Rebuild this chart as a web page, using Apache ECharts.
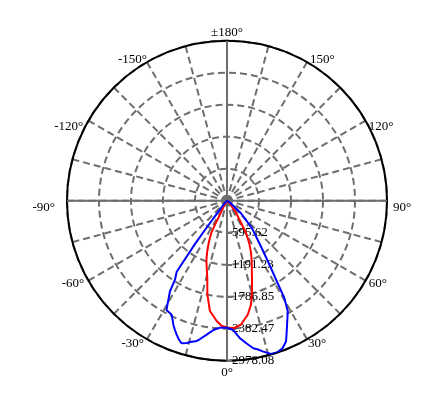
<!DOCTYPE html>
<html><head><meta charset="utf-8">
<script src="https://cdn.jsdelivr.net/npm/echarts@6/dist/echarts.min.js"></script>
<style>html,body{margin:0;padding:0;background:#fff}#c{width:446px;height:397px}</style>
</head><body><div id="c"></div>
<script>
// angle (deg, 0 = down, + = right) and intensity (cd)
var redAngles = [-90, -35, -27, -26.6, -26, -23.5, -21, -19, -14.3, -11.8, -8.8, -4.9, -2.4, 0, 3.3, 6.4, 10.3, 13, 15.4, 17.5, 22.5, 24.8, 27.5, 30.7, 32.5, 36.9, 42, 50, 90];
var redValues = [0, 60, 250, 458, 666, 853, 1037, 1180, 1485, 1787, 2077, 2247, 2334, 2360, 2373, 2323, 2157, 1986, 1750, 1547, 1200, 1066, 900, 693, 486, 279, 100, 20, 0];
var blueAngles = [-90, -45, -38, -37, -36.5, -35.3, -33.3, -32.2, -29, -27.5, -25.9, -24.5, -23.4, -22, -20.6, -19, -17.6, -15.8, -14.1, -12.5, -11, -8.6, -6, -3.2, 0, 2.8, 5.4, 7.6, 10.1, 11.8, 13.3, 16, 18.4, 20.7, 22.8, 25.2, 28.8, 30.5, 32, 34, 37, 42, 48, 60, 90];
var blueValues = [0, 60, 300, 700, 1000, 1620, 1765, 1992, 2325, 2340, 2358, 2440, 2515, 2590, 2664, 2740, 2785, 2753, 2706, 2680, 2623, 2522, 2420, 2367, 2364, 2410, 2573, 2672, 2790, 2830, 2881, 2969, 2975, 2931, 2838, 2619, 2348, 2102, 1700, 1365, 1020, 700, 350, 50, 0];
var radialMax = 2978.08;
var radialLabels = ['595.62', '1191.23', '1786.85', '2382.47', '2978.08'];
var angleLabels = ['0°', '30°', '60°', '90°', '120°', '150°', '±180°', '-150°', '-120°', '-90°', '-60°', '-30°'];

// fine label placement nudges (px) [dx, dy], one per angle label
var labelNudge = [[0, -1], [-2, -7], [-2, -7], [0, 7], [-2, 15], [0, 9], [0, 4], [3, 9], [0, 15], [-6, 7], [1, -7], [0, -7]];

function toData(angles, values) {
  return angles.map(function (a, i) { return [values[i], (a + 360) % 360]; });
}
var step = radialMax / 5;
var font = 'Liberation Serif';
var grey = '#6e6e6e';

var rich = {};
labelNudge.forEach(function (n, i) {
  rich['a' + i] = {
    fontFamily: font, fontSize: 13, color: '#000',
    padding: [n[1], -n[0], -n[1], n[0]]
  };
});

var chart = echarts.init(document.getElementById('c'), null, {renderer: 'canvas'});
chart.setOption({
  animation: false,
  backgroundColor: '#fff',
  polar: {center: [227, 200.7], radius: 160},
  angleAxis: {
    type: 'value', min: 0, max: 360, interval: 15,
    startAngle: -90, clockwise: false,
    axisLine: {show: true, lineStyle: {color: '#000', width: 2}},
    axisTick: {show: false},
    axisLabel: {
      show: true, margin: 6, color: '#000', fontFamily: font, fontSize: 13,
      rich: rich,
      formatter: function (v) {
        if (v % 30 !== 0 || v >= 360) return '';
        var i = v / 30;
        return '{a' + i + '|' + angleLabels[i] + '}';
      }
    },
    splitLine: {show: true, lineStyle: {color: grey, width: 2, type: [7, 4]}}
  },
  radiusAxis: {
    type: 'value', min: 0, max: radialMax, interval: step,
    axisLine: {show: false},
    axisTick: {show: true, length: 5, lineStyle: {color: grey, width: 2}},
    axisLabel: {
      show: true, margin: 5, color: '#000', fontFamily: font, fontSize: 13,
      formatter: function (v) { var i = Math.round(v / step); return i > 0 ? radialLabels[i - 1] : ''; }
    },
    splitLine: {show: true, lineStyle: {color: grey, width: 2, type: [7, 4]}}
  },
  series: [
    {type: 'line', coordinateSystem: 'polar', symbol: 'none', silent: true, z: 1,
     lineStyle: {color: grey, width: 2},
     data: [[radialMax, 0], [0, 0], [radialMax, 180]]},
    {type: 'line', coordinateSystem: 'polar', symbol: 'none', silent: true, z: 1,
     lineStyle: {color: grey, width: 2},
     data: [[radialMax, 90], [0, 0], [radialMax, 270]]},
    {type: 'line', coordinateSystem: 'polar', symbol: 'none', z: 3,
     lineStyle: {color: '#ff0000', width: 2}, data: toData(redAngles, redValues)},
    {type: 'line', coordinateSystem: 'polar', symbol: 'none', z: 4,
     lineStyle: {color: '#0000ff', width: 2}, data: toData(blueAngles, blueValues)}
  ]
});
</script></body></html>
